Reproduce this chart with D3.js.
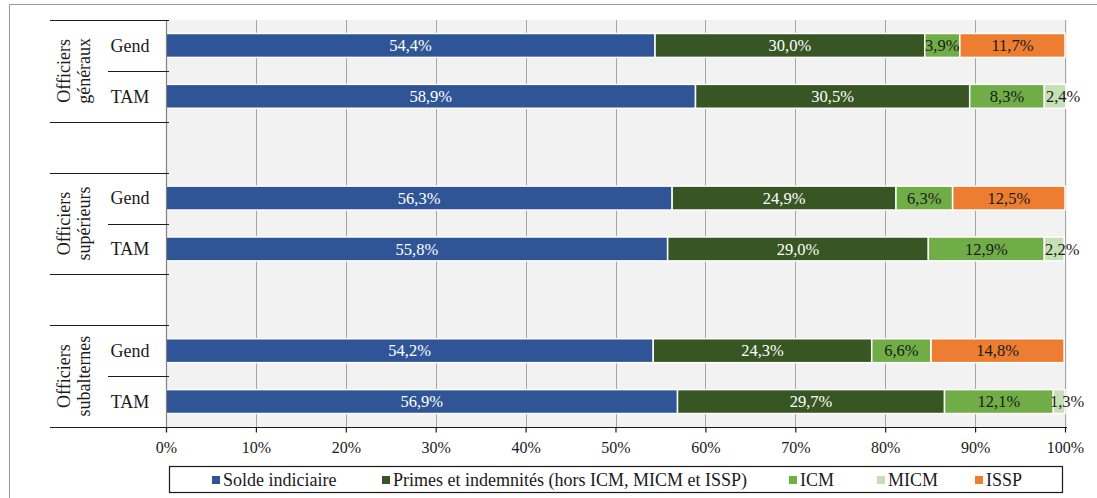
<!DOCTYPE html>
<html>
<head>
<meta charset="utf-8">
<script src="https://cdn.jsdelivr.net/npm/d3@7"></script>
<style>
  html, body { margin: 0; padding: 0; background: #fff; }
  svg { display: block; }
</style>
</head>
<body>
<svg id="chart" width="1097" height="498"></svg>
<script>
// Rows: grade groups, each with Gendarmerie and TAM bars
const groups = [
  { key: "gen", lines: ["Officiers", "généraux"] },
  { key: "sup", lines: ["Officiers", "supérieurs"] },
  { key: "sub", lines: ["Officiers", "subalternes"] }
];
const subCategories = ["Gend", "TAM"];

const seriesNames = [
  "Solde indiciaire",
  "Primes et indemnités (hors ICM, MICM et ISSP)",
  "ICM",
  "MICM",
  "ISSP"
];
const seriesColors = ["#2f5597", "#375623", "#70ad47", "#c5e0b4", "#ed7d31"];
const labelColors = ["#ffffff", "#ffffff", "#1a1a1a", "#1a1a1a", "#1a1a1a"];

// Shares (%) per row, in order: Solde, Primes, ICM, MICM, ISSP
const soldeIndiciaire = [54.4, 58.9, 56.3, 55.8, 54.2, 56.9];
const primes          = [30.0, 30.5, 24.9, 29.0, 24.3, 29.7];
const icm             = [3.9, 8.3, 6.3, 12.9, 6.6, 12.1];
const micm            = [0, 2.4, 0, 2.2, 0, 1.3];
const issp            = [11.7, 0, 12.5, 0, 14.8, 0];

const xTicks = [0, 10, 20, 30, 40, 50, 60, 70, 80, 90, 100];

const seriesValues = [soldeIndiciaire, primes, icm, micm, issp];
const FONT = '"Liberation Serif"';

// Row keys, with an empty spacer slot between groups
const rows = [];
groups.forEach((g, gi) => {
  subCategories.forEach(s => rows.push({ key: g.key + "|" + s, group: g.key, sub: s }));
  if (gi < groups.length - 1) rows.push({ key: g.key + "|gap", group: null, sub: null });
});
const dataRows = rows.filter(r => r.sub !== null);

const svg = d3.select("#chart");
const plot = { left: 166, right: 1065, top: 20, bottom: 427 };

const x = d3.scaleLinear().domain([0, 100]).range([plot.left, plot.right]);
const y = d3.scaleBand()
  .domain(rows.map(r => r.key))
  .range([plot.top, plot.bottom])
  .paddingInner(0.53)
  .paddingOuter(0.265);
const step = y.step();

// Outer frame (top and left edges)
svg.append("line").attr("x1", 9.5).attr("x2", 1097).attr("y1", 4.5).attr("y2", 4.5)
  .attr("stroke", "#9a9a9a").attr("stroke-width", 1);
svg.append("line").attr("x1", 9.5).attr("x2", 9.5).attr("y1", 4.5).attr("y2", 498)
  .attr("stroke", "#9a9a9a").attr("stroke-width", 1);

// Plot background
svg.append("rect")
  .attr("x", plot.left).attr("y", plot.top)
  .attr("width", plot.right - plot.left + 2).attr("height", plot.bottom - plot.top)
  .attr("fill", "#f2f2f2");

// Vertical gridlines
svg.append("g").selectAll("line").data(xTicks.slice(1)).join("line")
  .attr("x1", d => Math.round(x(d)) + 0.5).attr("x2", d => Math.round(x(d)) + 0.5)
  .attr("y1", plot.top).attr("y2", plot.bottom)
  .attr("stroke", "#a6a6a6").attr("stroke-width", 1);

// Stacked segments
const segments = dataRows.flatMap((r, i) => {
  let acc = 0;
  return seriesValues.map((vals, si) => {
    const v = vals[i];
    const seg = { row: r, si, v, x0: acc, x1: acc + v };
    acc += v;
    return seg;
  }).filter(s => s.v > 0);
});

svg.append("g").selectAll("rect").data(segments).join("rect")
  .attr("x", d => x(d.x0))
  .attr("y", d => y(d.row.key))
  .attr("width", d => x(d.x1) - x(d.x0))
  .attr("height", y.bandwidth())
  .attr("fill", d => seriesColors[d.si])
  .attr("stroke", "#ffffff")
  .attr("stroke-width", 1.5);

const fmt = v => v.toFixed(1).replace(".", ",") + "%";
svg.append("g").selectAll("text").data(segments).join("text")
  .attr("x", d => (x(d.x0) + x(d.x1)) / 2 + (d.si === 3 ? 8 : 0))
  .attr("y", d => y(d.row.key) + y.bandwidth() / 2)
  .attr("dy", "0.35em")
  .attr("text-anchor", "middle")
  .style("font-family", FONT)
  .style("font-size", "16.5px")
  .attr("fill", d => labelColors[d.si])
  .text(d => fmt(d.v));

// Category axis line
svg.append("line")
  .attr("x1", plot.left + 0.5).attr("x2", plot.left + 0.5)
  .attr("y1", plot.top).attr("y2", plot.bottom + 5)
  .attr("stroke", "#808080").attr("stroke-width", 1.2);

// Row boundaries on the category axis
const boundaries = rows.map((r, i) => {
  const prev = rows[i - 1];
  const inner = !!(prev && prev.group && r.group && prev.group === r.group);
  return { y: plot.top + i * step, inner };
});
boundaries.push({ y: plot.bottom, inner: false });
svg.append("g").selectAll("line").data(boundaries).join("line")
  .attr("x1", d => d.inner ? 108 : 50)
  .attr("x2", plot.left + 3)
  .attr("y1", d => Math.round(d.y) + 0.5).attr("y2", d => Math.round(d.y) + 0.5)
  .attr("stroke", "#1a1a1a").attr("stroke-width", 1.2);

// Sub-category labels
svg.append("g").selectAll("text").data(dataRows).join("text")
  .attr("x", 130)
  .attr("y", d => y(d.key) + y.bandwidth() / 2)
  .attr("dy", "0.35em")
  .attr("text-anchor", "middle")
  .style("font-family", FONT)
  .style("font-size", "18px")
  .attr("fill", "#1a1a1a")
  .text(d => d.sub);

// Group labels (rotated, two lines)
groups.forEach(g => {
  const yc = (y(g.key + "|Gend") + y(g.key + "|TAM") + y.bandwidth()) / 2;
  const t = svg.append("text")
    .attr("transform", `translate(74,${yc}) rotate(-90)`)
    .attr("text-anchor", "middle")
    .style("font-family", FONT)
    .style("font-size", "18px")
    .attr("fill", "#1a1a1a");
  g.lines.forEach((line, li) => {
    t.append("tspan").attr("x", 0).attr("y", li === 0 ? -4 : 16).text(line);
  });
});

// Value axis
const xAxis = d3.axisBottom(x)
  .tickValues(xTicks)
  .tickSize(5)
  .tickFormat(d => d + "%");
const ax = svg.append("g").attr("transform", `translate(0,${plot.bottom + 0.5})`).call(xAxis);
ax.attr("font-family", null).attr("font-size", null);
ax.select(".domain").attr("stroke", "#1a1a1a").attr("stroke-width", 1.2)
  .attr("d", `M${plot.left},0H${plot.right + 2}`);
ax.selectAll(".tick line").attr("stroke", "#1a1a1a").attr("stroke-width", 1.2);
ax.selectAll(".tick text")
  .style("font-family", FONT)
  .style("font-size", "16px")
  .attr("fill", "#1a1a1a").attr("y", 10).attr("dy", "0.95em");

// Legend
const legend = svg.append("g");
legend.append("rect")
  .attr("x", 169.5).attr("y", 466.5).attr("width", 893).attr("height", 26)
  .attr("fill", "#fff").attr("stroke", "#1a1a1a").attr("stroke-width", 1.2);
const legendX = [212, 382, 789, 877, 975];
const items = legend.selectAll("g").data(seriesNames).join("g")
  .attr("transform", (d, i) => `translate(${legendX[i]},480)`);
items.append("rect").attr("x", 0).attr("y", -4).attr("width", 8).attr("height", 8)
  .attr("fill", (d, i) => seriesColors[i]);
items.append("text").attr("x", 11).attr("dy", "0.35em")
  .style("font-family", FONT)
  .style("font-size", "18px")
  .attr("fill", "#1a1a1a")
  .text(d => d);
</script>
</body>
</html>
